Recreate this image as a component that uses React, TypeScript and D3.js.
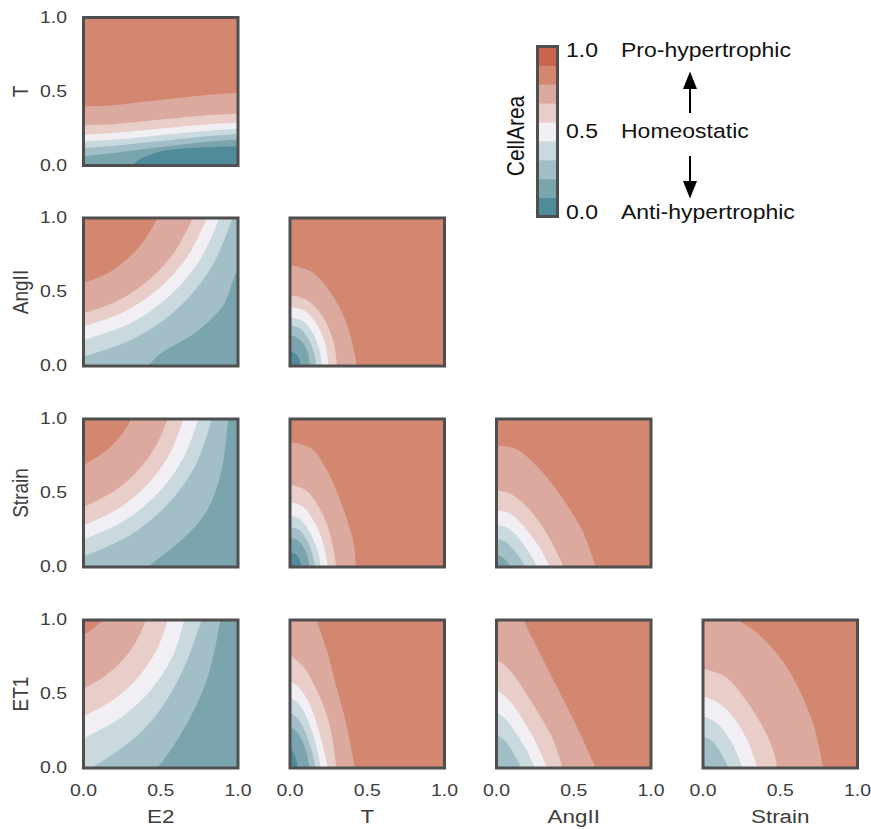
import React from "react";
import * as d3 from "d3";

// figure size and layout of the lower-triangle grid
const W = 871;
const H = 829;
const colLeft = [83.5, 290, 496.5, 703];
const rowTop = [17.5, 218, 419, 620];
const PW = 154.5;
const PH = 148;
const SX = 1.18; // text in the reference is a bit wider than tall
const FONT = "'Liberation Sans', Arial, Helvetica, sans-serif";

const xVars = ["E2", "T", "AngII", "Strain"];
const yVars = ["T", "AngII", "Strain", "ET1"];
const tickValues = [0, 0.5, 1];
const tickLabels = ["0.0", "0.5", "1.0"];

// 9 filled levels, low -> high
const bandColors = [
  "#4f8b99", "#7aa5ad", "#a2bfc7", "#c9d9de", "#f2eff4",
  "#e8cdc8", "#dca99e", "#d38771", "#c9644e",
];
const colorbarLevels = [-0.025, 0.092, 0.208, 0.325, 0.442, 0.558, 0.675, 0.792, 0.908, 1.025];
const colorbarTicks = [0, 0.5, 1];
const colorbarTickLabels = ["0.0", "0.5", "1.0"];
const effectLabels = ["Anti-hypertrophic", "Homeostatic", "Pro-hypertrophic"];

// corners used to close a contour onto its low side
const BL = [0, 0];
const BR = [1, 0];
const TR = [1, 1];
const TL = [0, 1];

// each entry: band below the boundary, boundary points (x,y in 0..1), closing corners
const e2T = [
  { band: 6, pts: [[0, 0.4], [0.18, 0.405], [0.39, 0.43], [0.61, 0.456], [0.82, 0.478], [1, 0.49]], close: [BR, BL] },
  { band: 5, pts: [[0, 0.271], [0.2, 0.28], [0.5, 0.31], [0.8, 0.34], [1, 0.35]], close: [BR, BL] },
  { band: 4, pts: [[0, 0.208], [0.2, 0.22], [0.5, 0.25], [0.8, 0.277], [1, 0.29]], close: [BR, BL] },
  { band: 3, pts: [[0, 0.163], [0.2, 0.175], [0.5, 0.205], [0.8, 0.235], [1, 0.249]], close: [BR, BL] },
  { band: 2, pts: [[0, 0.118], [0.2, 0.133], [0.5, 0.165], [0.8, 0.197], [1, 0.213]], close: [BR, BL] },
  { band: 1, pts: [[0, 0.064], [0.2, 0.085], [0.5, 0.125], [0.8, 0.16], [1, 0.175]], close: [BR, BL] },
  { band: 0, pts: [[0.31, 0], [0.38, 0.05], [0.5, 0.095], [0.7, 0.118], [1, 0.13]], close: [BR] },
];

const e2AngII = [
  { band: 6, pts: [[0, 0.56], [0.16, 0.628], [0.29, 0.73], [0.4, 0.86], [0.48, 1]], close: [TR, BR, BL] },
  { band: 5, pts: [[0, 0.356], [0.227, 0.444], [0.427, 0.585], [0.592, 0.774], [0.706, 1]], close: [TR, BR, BL] },
  { band: 4, pts: [[0, 0.27], [0.258, 0.364], [0.488, 0.523], [0.673, 0.738], [0.8, 1]], close: [TR, BR, BL] },
  { band: 3, pts: [[0, 0.176], [0.29, 0.282], [0.546, 0.463], [0.748, 0.707], [0.88, 1]], close: [TR, BR, BL] },
  { band: 2, pts: [[0, 0.063], [0.328, 0.185], [0.614, 0.393], [0.831, 0.673], [0.965, 1]], close: [TR, BR, BL] },
  { band: 1, pts: [[0.416, 0], [0.502, 0.086], [0.61, 0.153], [0.717, 0.22], [0.82, 0.31], [0.91, 0.42], [0.975, 0.6], [1, 0.65]], close: [BR] },
];

const tAngII = [
  { band: 6, pts: [[0, 0.682], [0.14, 0.635], [0.267, 0.49], [0.374, 0.266], [0.434, 0]], close: [BL] },
  { band: 5, pts: [[0, 0.48], [0.12, 0.44], [0.22, 0.32], [0.28, 0.17], [0.305, 0]], close: [BL] },
  { band: 4, pts: [[0, 0.4], [0.1, 0.37], [0.18, 0.27], [0.23, 0.14], [0.25, 0]], close: [BL] },
  { band: 3, pts: [[0, 0.33], [0.08, 0.305], [0.15, 0.22], [0.19, 0.11], [0.206, 0]], close: [BL] },
  { band: 2, pts: [[0, 0.277], [0.07, 0.25], [0.12, 0.18], [0.155, 0.09], [0.17, 0]], close: [BL] },
  { band: 1, pts: [[0, 0.21], [0.05, 0.19], [0.095, 0.14], [0.12, 0.07], [0.127, 0]], close: [BL] },
  { band: 0, pts: [[0, 0.097], [0.03, 0.088], [0.05, 0.065], [0.064, 0.03], [0.069, 0]], close: [BL] },
];

const e2Strain = [
  { band: 6, pts: [[0, 0.687], [0.095, 0.746], [0.181, 0.819], [0.254, 0.905], [0.309, 1]], close: [TR, BR, BL] },
  { band: 5, pts: [[0, 0.405], [0.187, 0.505], [0.345, 0.644], [0.466, 0.812], [0.545, 1]], close: [TR, BR, BL] },
  { band: 4, pts: [[0, 0.28], [0.229, 0.397], [0.42, 0.565], [0.561, 0.77], [0.648, 1]], close: [TR, BR, BL] },
  { band: 3, pts: [[0, 0.185], [0.263, 0.312], [0.485, 0.501], [0.647, 0.736], [0.743, 1]], close: [TR, BR, BL] },
  { band: 2, pts: [[0, 0.072], [0.301, 0.215], [0.549, 0.429], [0.73, 0.698], [0.83, 1]], close: [TR, BR, BL] },
  { band: 1, pts: [[0.412, 0], [0.5, 0.07], [0.61, 0.16], [0.72, 0.27], [0.81, 0.4], [0.87, 0.56], [0.91, 0.75], [0.936, 1]], close: [TR, BR] },
];

const tStrain = [
  { band: 6, pts: [[0, 0.845], [0.138, 0.8], [0.245, 0.64], [0.353, 0.37], [0.41, 0.17], [0.428, 0]], close: [BL] },
  { band: 5, pts: [[0, 0.556], [0.1, 0.52], [0.19, 0.4], [0.26, 0.22], [0.3, 0]], close: [BL] },
  { band: 4, pts: [[0, 0.44], [0.08, 0.41], [0.16, 0.3], [0.215, 0.16], [0.245, 0]], close: [BL] },
  { band: 3, pts: [[0, 0.35], [0.07, 0.32], [0.13, 0.23], [0.18, 0.11], [0.2, 0]], close: [BL] },
  { band: 2, pts: [[0, 0.27], [0.06, 0.25], [0.11, 0.18], [0.145, 0.09], [0.163, 0]], close: [BL] },
  { band: 1, pts: [[0, 0.2], [0.05, 0.18], [0.09, 0.13], [0.115, 0.065], [0.127, 0]], close: [BL] },
  { band: 0, pts: [[0, 0.1], [0.03, 0.09], [0.055, 0.065], [0.068, 0.03], [0.073, 0]], close: [BL] },
];

const angIIStrain = [
  { band: 6, pts: [[0, 0.822], [0.13, 0.795], [0.28, 0.66], [0.43, 0.46], [0.56, 0.236], [0.642, 0]], close: [BL] },
  { band: 5, pts: [[0, 0.518], [0.1, 0.49], [0.22, 0.38], [0.34, 0.2], [0.435, 0]], close: [BL] },
  { band: 4, pts: [[0, 0.383], [0.09, 0.36], [0.18, 0.27], [0.28, 0.13], [0.345, 0]], close: [BL] },
  { band: 3, pts: [[0, 0.286], [0.07, 0.265], [0.14, 0.2], [0.21, 0.1], [0.266, 0]], close: [BL] },
  { band: 2, pts: [[0, 0.19], [0.05, 0.175], [0.1, 0.13], [0.15, 0.065], [0.19, 0]], close: [BL] },
  { band: 1, pts: [[0, 0.079], [0.03, 0.07], [0.06, 0.045], [0.091, 0]], close: [BL] },
];

const e2ET1 = [
  { band: 6, pts: [[0, 0.9], [0.066, 0.945], [0.126, 1]], close: [TR, BR, BL] },
  { band: 5, pts: [[0, 0.534], [0.138, 0.62], [0.254, 0.73], [0.343, 0.858], [0.405, 1]], close: [TR, BR, BL] },
  { band: 4, pts: [[0, 0.349], [0.198, 0.465], [0.358, 0.619], [0.476, 0.802], [0.545, 1]], close: [TR, BR, BL] },
  { band: 3, pts: [[0, 0.203], [0.244, 0.342], [0.44, 0.532], [0.578, 0.756], [0.652, 1]], close: [TR, BR, BL] },
  { band: 2, pts: [[0.05, 0], [0.2, 0.1], [0.35, 0.22], [0.48, 0.37], [0.59, 0.55], [0.68, 0.75], [0.764, 1]], close: [TR, BR] },
  { band: 1, pts: [[0.477, 0], [0.55, 0.1], [0.63, 0.23], [0.72, 0.4], [0.8, 0.6], [0.85, 0.8], [0.885, 1]], close: [TR, BR] },
];

const tET1 = [
  { band: 6, pts: [[0.17, 1], [0.234, 0.81], [0.288, 0.597], [0.363, 0.304], [0.42, 0]], close: [BL, TL] },
  { band: 5, pts: [[0, 0.766], [0.09, 0.68], [0.18, 0.51], [0.24, 0.35], [0.275, 0.2], [0.3, 0]], close: [BL] },
  { band: 4, pts: [[0, 0.59], [0.07, 0.53], [0.14, 0.4], [0.2, 0.2], [0.245, 0]], close: [BL] },
  { band: 3, pts: [[0, 0.48], [0.06, 0.43], [0.12, 0.31], [0.17, 0.15], [0.2, 0]], close: [BL] },
  { band: 2, pts: [[0, 0.375], [0.05, 0.335], [0.1, 0.24], [0.14, 0.12], [0.165, 0]], close: [BL] },
  { band: 1, pts: [[0, 0.28], [0.04, 0.25], [0.08, 0.18], [0.11, 0.09], [0.128, 0]], close: [BL] },
  { band: 0, pts: [[0, 0.12], [0.02, 0.11], [0.035, 0.075], [0.045, 0.035], [0.048, 0]], close: [BL] },
];

const angIIET1 = [
  { band: 6, pts: [[0.173, 1], [0.26, 0.82], [0.39, 0.55], [0.52, 0.28], [0.642, 0]], close: [BL, TL] },
  { band: 5, pts: [[0, 0.732], [0.06, 0.69], [0.13, 0.6], [0.26, 0.39], [0.367, 0.19], [0.427, 0]], close: [BL] },
  { band: 4, pts: [[0, 0.529], [0.08, 0.46], [0.17, 0.33], [0.26, 0.16], [0.328, 0]], close: [BL] },
  { band: 3, pts: [[0, 0.376], [0.06, 0.33], [0.13, 0.23], [0.2, 0.11], [0.248, 0]], close: [BL] },
  { band: 2, pts: [[0, 0.225], [0.05, 0.19], [0.1, 0.12], [0.162, 0]], close: [BL] },
];

const strainET1 = [
  { band: 6, pts: [[0.224, 1], [0.353, 0.91], [0.525, 0.71], [0.632, 0.507], [0.718, 0.282], [0.778, 0]], close: [BL, TL] },
  { band: 5, pts: [[0, 0.669], [0.14, 0.62], [0.267, 0.473], [0.396, 0.26], [0.46, 0.1], [0.48, 0]], close: [BL] },
  { band: 4, pts: [[0, 0.484], [0.1, 0.44], [0.2, 0.34], [0.29, 0.18], [0.353, 0]], close: [BL] },
  { band: 3, pts: [[0, 0.349], [0.08, 0.31], [0.15, 0.23], [0.21, 0.12], [0.256, 0]], close: [BL] },
  { band: 2, pts: [[0, 0.214], [0.05, 0.19], [0.1, 0.13], [0.166, 0]], close: [BL] },
];

const panels = [
  { row: 0, col: 0, base: 7, bands: e2T },
  { row: 1, col: 0, base: 7, bands: e2AngII },
  { row: 1, col: 1, base: 7, bands: tAngII },
  { row: 2, col: 0, base: 7, bands: e2Strain },
  { row: 2, col: 1, base: 7, bands: tStrain },
  { row: 2, col: 2, base: 7, bands: angIIStrain },
  { row: 3, col: 0, base: 7, bands: e2ET1 },
  { row: 3, col: 1, base: 7, bands: tET1 },
  { row: 3, col: 2, base: 7, bands: angIIET1 },
  { row: 3, col: 3, base: 7, bands: strainET1 },
];

function Label({ x, y, children, size, anchor = "middle", rotate = false, fill = "#3d3d3d" }: any) {
  const t = `translate(${x},${y}) scale(${SX},1)` + (rotate ? " rotate(-90)" : "");
  return (
    <text transform={t} fontSize={size} fontFamily={FONT} textAnchor={anchor} dominantBaseline="central" fill={fill}>
      {children}
    </text>
  );
}

function Panel({ p, idx }: any) {
  const left = colLeft[p.col];
  const top = rowTop[p.row];
  const x = d3.scaleLinear().domain([0, 1]).range([left, left + PW]);
  const y = d3.scaleLinear().domain([0, 1]).range([top + PH, top]);
  const line = d3
    .line<number[]>()
    .x((d) => x(d[0]))
    .y((d) => y(d[1]))
    .curve(d3.curveCatmullRom.alpha(0.5));
  const clipId = `clip-${idx}`;
  return (
    <g>
      <clipPath id={clipId}>
        <rect x={left} y={top} width={PW} height={PH} />
      </clipPath>
      <g clipPath={`url(#${clipId})`}>
        <rect x={left} y={top} width={PW} height={PH} fill={bandColors[p.base]} />
        {p.bands.map((b: any, i: number) => {
          const d =
            line(b.pts) +
            b.close.map((c: number[]) => `L${x(c[0])},${y(c[1])}`).join("") +
            "Z";
          return <path key={i} d={d} fill={bandColors[b.band]} />;
        })}
      </g>
      <rect x={left} y={top} width={PW} height={PH} fill="none" stroke="#4f4f4f" strokeWidth={3} />
      {p.col === 0 &&
        tickValues.map((v, i) => (
          <Label key={"y" + i} x={left - 16.5} y={y(v)} size={16.5} anchor="end">
            {tickLabels[i]}
          </Label>
        ))}
      {p.row === 3 &&
        tickValues.map((v, i) => (
          <Label key={"x" + i} x={x(v)} y={791} size={16.5}>
            {tickLabels[i]}
          </Label>
        ))}
      {p.col === 0 && (
        <Label x={19.5} y={top + PH / 2} size={19} rotate>
          {yVars[p.row]}
        </Label>
      )}
      {p.row === 3 && (
        <Label x={left + PW / 2} y={816} size={19}>
          {xVars[p.col]}
        </Label>
      )}
    </g>
  );
}

function Colorbar() {
  const cx = 537.5;
  const cw = 20;
  const y = d3.scaleLinear().domain([colorbarLevels[0], colorbarLevels[colorbarLevels.length - 1]]).range([216.5, 46.5]);
  const arrowX = 690;
  return (
    <g>
      {bandColors.map((c, i) => (
        <rect key={i} x={cx} y={y(colorbarLevels[i + 1])} width={cw} height={y(colorbarLevels[i]) - y(colorbarLevels[i + 1]) + 0.5} fill={c} />
      ))}
      <rect x={cx} y={y(colorbarLevels[colorbarLevels.length - 1])} width={cw} height={y(colorbarLevels[0]) - y(colorbarLevels[colorbarLevels.length - 1])} fill="none" stroke="#4f4f4f" strokeWidth={3} />
      {colorbarTicks.map((v, i) => (
        <g key={i}>
          <Label x={566} y={y(v)} size={19.5} anchor="start" fill="#111">
            {colorbarTickLabels[i]}
          </Label>
          <Label x={621} y={y(v)} size={19.5} anchor="start" fill="#111">
            {effectLabels[i]}
          </Label>
        </g>
      ))}
      <Label x={515} y={136} size={21} rotate fill="#111">
        CellArea
      </Label>
      {/* arrows between the effect labels */}
      <line x1={arrowX} x2={arrowX} y1={113} y2={86} stroke="#000" strokeWidth={2} />
      <path d={`M${arrowX},71.5 L${arrowX - 7},89 L${arrowX + 7},89 Z`} fill="#000" />
      <line x1={arrowX} x2={arrowX} y1={156} y2={182} stroke="#000" strokeWidth={2} />
      <path d={`M${arrowX},198.5 L${arrowX - 7},181 L${arrowX + 7},181 Z`} fill="#000" />
    </g>
  );
}

export default function App() {
  return (
    <svg width={W} height={H} style={{ position: "absolute", left: 0, top: 0, background: "#fff" }}>
      <rect width={W} height={H} fill="#fff" />
      {panels.map((p, i) => (
        <Panel key={i} p={p} idx={i} />
      ))}
      <Colorbar />
    </svg>
  );
}
